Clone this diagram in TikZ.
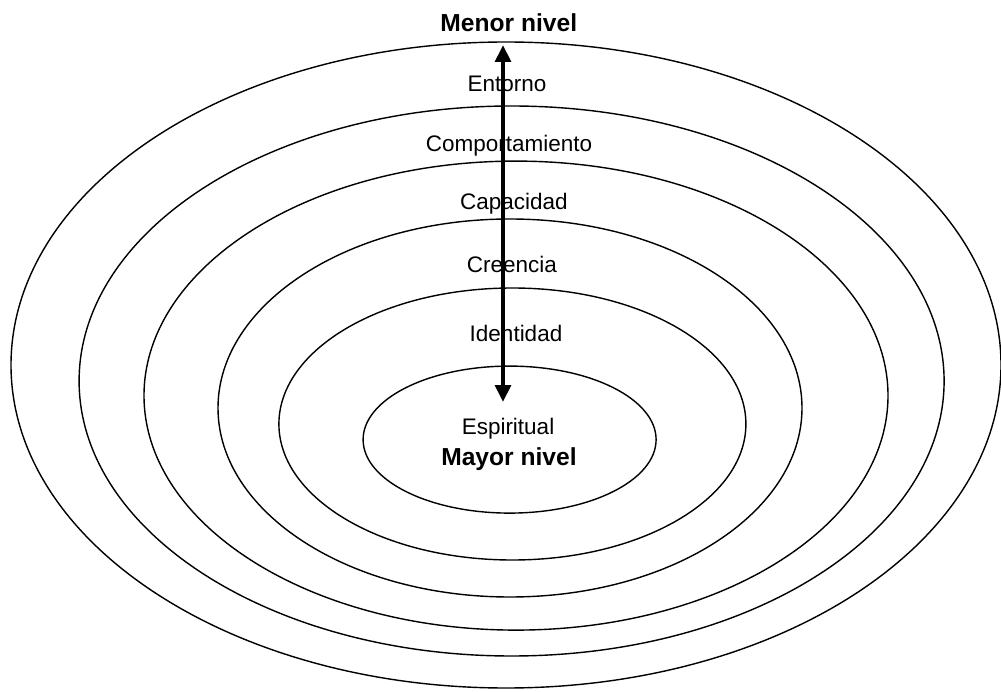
\documentclass[tikz,border=0pt]{standalone}
\usepackage{fontspec}
\setmainfont{Liberation Sans}
\usetikzlibrary{shapes.geometric,arrows.meta}

\begin{document}
\begin{tikzpicture}[
    ring/.style={ellipse, draw=black, line width=1pt, inner sep=0pt, outer sep=0pt},
    level/.style={anchor=base, font=\fontsize{16}{19}\selectfont},
    extreme/.style={anchor=base, font=\fontsize{17.5}{21}\selectfont\bfseries}
]
    \useasboundingbox (0, 0) rectangle (25.025, -17.3);

    \node[ring, minimum width=24.75cm, minimum height=16.15cm] (entorno) at (12.65, -9.125) {};
    \node[ring, minimum width=21.625cm, minimum height=13.75cm] (comportamiento) at (12.79, -9.525) {};
    \node[ring, minimum width=18.6cm, minimum height=11.725cm] (capacidad) at (12.9, -9.89) {};
    \node[ring, minimum width=14.6cm, minimum height=9.45cm] (creencia) at (12.75, -10.2) {};
    \node[ring, minimum width=11.675cm, minimum height=6.8cm] (identidad) at (12.81, -10.6) {};
    \node[ring, minimum width=7.325cm, minimum height=3.675cm] (espiritual) at (12.74, -10.99) {};

    \node[extreme] (menor) at (12.72, -0.8) {Menor nivel};
    \node[level] (tentorno) at (12.675, -2.29) {Entorno};
    \node[level] (tcomportamiento) at (12.725, -3.79) {Comportamiento};
    \node[level] (tcapacidad) at (12.85, -5.24) {Capacidad};
    \node[level] (tcreencia) at (12.8, -6.81) {Creencia};
    \node[level] (tidentidad) at (12.9, -8.55) {Identidad};
    \node[level] (tespiritual) at (12.7, -10.86) {Espiritual};
    \node[extreme] (mayor) at (12.725, -11.625) {Mayor nivel};

    \coordinate (top) at (12.575, -1.125);
    \coordinate (bottom) at (12.575, -10.05);
    \draw[{Triangle[width=11pt, length=12pt]}-{Triangle[width=11pt, length=12pt]}, line width=2.8pt] (top) to (bottom);
\end{tikzpicture}
\end{document}
